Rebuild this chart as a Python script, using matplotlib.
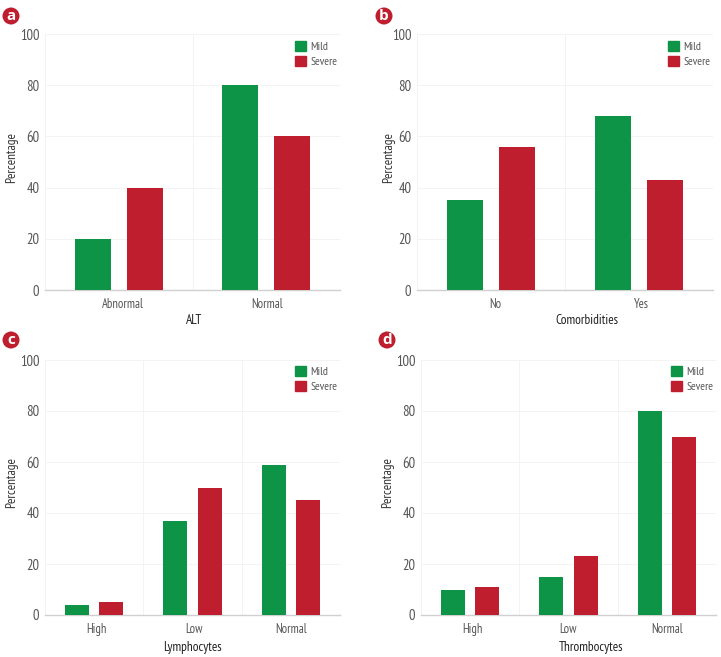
import matplotlib
matplotlib.use("Agg")
import matplotlib.pyplot as plt
from matplotlib import font_manager as fm
from matplotlib.patches import Ellipse, Patch
from matplotlib.transforms import ScaledTranslation

names = {f.name for f in fm.fontManager.ttflist}
FONT = next((n for n in ["PT Sans Narrow", "Liberation Sans Narrow", "Open Sans"] if n in names), "DejaVu Sans")
plt.rcParams["font.family"] = [FONT, "DejaVu Sans"]

W, H = 721, 657
GREEN, RED = "#0E9447", "#BE1E2D"
series_names = ["Mild", "Severe"]
yticks = [0, 20, 40, 60, 80, 100]

cats_a = ["Abnormal", "Normal"]
mild_a = [20, 80]
severe_a = [40, 60]
cats_b = ["No", "Yes"]
mild_b = [35, 68]
severe_b = [56, 43]
cats_c = ["High", "Low", "Normal"]
mild_c = [4, 37, 59]
severe_c = [5, 50, 45]
cats_d = ["High", "Low", "Normal"]
mild_d = [10, 15, 80]
severe_d = [11, 23, 70]

# letter, xlabel, cats, mild, severe, axes box, badge centre, legend corner,
# ylabel centre, xlabel centre, tick label shifts (px)
panels = [
    ("a", "ALT", cats_a, mild_a, severe_a, (45, 34, 340, 290), (11, 16), (295, 41), (12, 158), (194, 321), [4, 1]),
    ("b", "Comorbidities", cats_b, mild_b, severe_b, (417, 34, 713, 290), (384, 16), (668, 41), (389, 158), (587, 321), [4, 2]),
    ("c", "Lymphocytes", cats_c, mild_c, severe_c, (45, 360, 340, 615), (11, 340), (295, 366), (12, 483), (192, 647), [2, 2, 0]),
    ("d", "Thrombocytes", cats_d, mild_d, severe_d, (421, 360, 716, 615), (387, 340), (671, 366), (388, 483), (591, 647), [2, -1, 0]),
]

fig = plt.figure(figsize=(W / 100, H / 100), dpi=100, facecolor="white")

for letter, xlabel, cats, mild, severe, (l, t, r, b), (bx, by), (lx, ly), (ylx, yly), (xlx, xly), shifts in panels:
    ax = fig.add_axes([l / W, 1 - b / H, (r - l) / W, (b - t) / H])
    centers = [i + 0.5 for i in range(len(cats))]
    off = 0.176 if len(cats) == 2 else 0.173
    width = 0.244
    ax.bar([c - off for c in centers], mild, width, color=GREEN, zorder=3, label=series_names[0])
    ax.bar([c + off for c in centers], severe, width, color=RED, zorder=3, label=series_names[1])
    ax.set_xlim(0, len(cats))
    ax.set_ylim(0, 100)
    ax.set_yticks(yticks)
    ax.set_xticks(centers)
    ax.set_xticklabels(cats)
    ax.set_xticks(range(len(cats) + 1), minor=True)
    ax.grid(True, which="minor", axis="x", color="#F3F3F3", lw=0.7, zorder=0)
    ax.grid(True, which="major", axis="y", color="#F3F3F3", lw=0.7, zorder=0)
    ax.tick_params(axis="both", which="both", length=0)
    ax.tick_params(axis="x", labelsize=9, labelcolor="#555555", pad=6)
    ax.tick_params(axis="y", labelsize=10.5, labelcolor="#555555", pad=4)
    for lab, dx in zip(ax.get_xticklabels(), shifts):
        lab.set_transform(lab.get_transform() + ScaledTranslation(dx / 100, 0, fig.dpi_scale_trans))
    for s in ("top", "right", "left"):
        ax.spines[s].set_visible(False)
    ax.spines["bottom"].set_color("#D0D0D0")
    ax.spines["bottom"].set_linewidth(1.0)
    ax.set_xlabel(xlabel, fontsize=9.5, color="#222222")
    ax.xaxis.set_label_coords((xlx - l) / (r - l), (b - xly) / (b - t), transform=ax.transAxes)
    ax.xaxis.label.set_va("center")
    ax.set_ylabel("Percentage", fontsize=9.5, color="#333333")
    ax.yaxis.set_label_coords((ylx - l) / (r - l), (b - yly) / (b - t), transform=ax.transAxes)
    ax.yaxis.label.set_va("center")
    fig.legend(
        handles=[Patch(color=GREEN, label=series_names[0]), Patch(color=RED, label=series_names[1])],
        loc="upper left", frameon=False, fontsize=8.5, labelcolor="#555555",
        handlelength=0.93, handleheight=0.93, handletextpad=0.4, labelspacing=0.35,
        bbox_to_anchor=(lx / W, 1 - ly / H), bbox_transform=fig.transFigure,
        borderpad=0, borderaxespad=0,
    )
    fig.add_artist(Ellipse((bx / W, 1 - by / H), 17 / W, 17 / H, transform=fig.transFigure,
                           facecolor=RED, edgecolor="none"))
    fig.text(bx / W, 1 - (by + 0.5) / H, letter, color="white", fontsize=11, fontweight="bold",
             ha="center", va="center", family=["Open Sans", "DejaVu Sans"])

fig.savefig("out.png", dpi=100)
